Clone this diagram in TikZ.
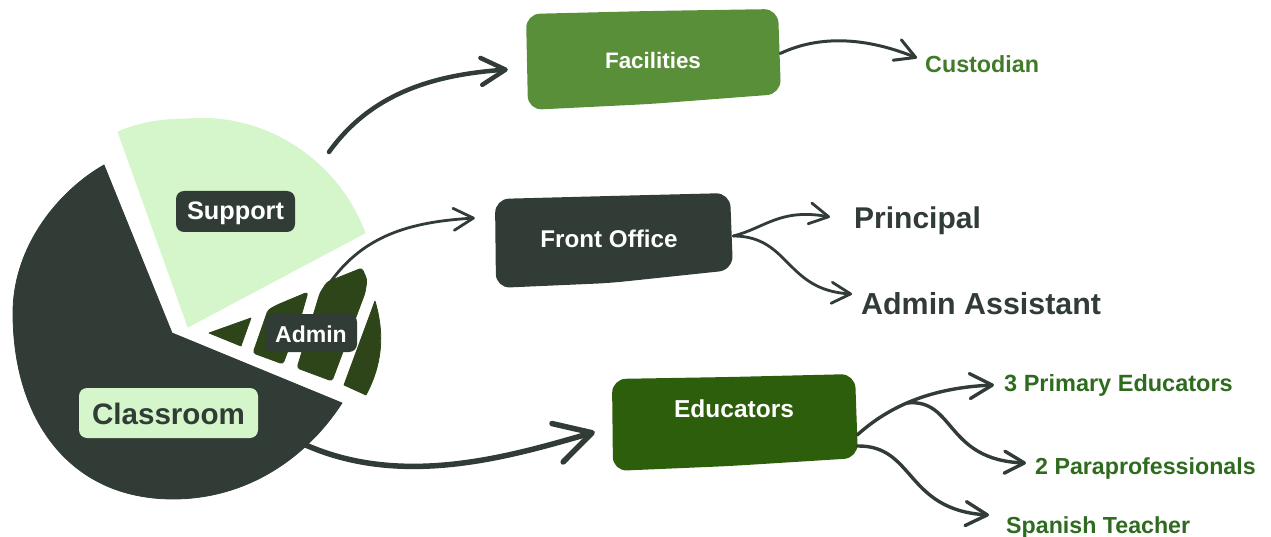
\documentclass[tikz,border=0pt]{standalone}
\usepackage{fontspec}
\setmainfont{Liberation Sans}
\usetikzlibrary{arrows.meta}
\definecolor{darkc}{HTML}{313C36}
\definecolor{lightc}{HTML}{D5F5CA}
\definecolor{facg}{HTML}{5A8F3A}
\definecolor{edug}{HTML}{2D5E0C}
\definecolor{admg}{HTML}{2D4518}
\definecolor{txtg}{HTML}{2E6B1F}
\definecolor{custg}{HTML}{437A28}
\newcommand{\fs}[1]{\fontsize{#1pt}{#1pt}\selectfont\bfseries}
\newcommand{\drop}[2]{\raisebox{-#1pt}[0pt][0pt]{#2}}
\tikzset{
  x=1pt,y=-1pt,
  tag/.style={rounded corners=8pt,inner sep=0pt,minimum width=#1},
  boxtext/.style={inner sep=0pt,text=white},
  barb/.style={draw=darkc,line cap=round,line join=round,fill=none},
  bigtip/.style={-{Straight Barb[length=#1*0.9,width=#1,round]}},
  sl/.style={fill=#1,draw=#1,line width=0.8pt,line join=round}
}
\begin{document}
\begin{tikzpicture}
\useasboundingbox (0,0) rectangle (1271,537);
% hand-drawn boxes
\fill[facg,rounded corners=14pt] (526,14) -- (650,11) -- (778,9) -- (781,94) -- (650,104) -- (528,110) -- cycle;
\fill[darkc,rounded corners=14pt] (495,199) -- (610,196) -- (730,193) -- (733,270) -- (610,283) -- (496,288) -- cycle;
\fill[edug,rounded corners=14pt] (612,379) -- (730,377) -- (855,374) -- (858,458) -- (730,466) -- (613,471) -- cycle;
% nodes
\node[boxtext,minimum width=254pt,minimum height=98pt] (fac) at (653,60.5) {\fs{22.4}Facilities};
\node[boxtext,minimum width=238pt,minimum height=92pt] (front) at (614,240) {};
\node[boxtext] (frontlabel) at (609,239) {\fs{24.2}Front Office};
\node[boxtext,minimum width=245pt,minimum height=96pt] (edu) at (734.5,423) {};
\node[boxtext] (edulabel) at (734,409) {\fs{24.5}Educators};
\node[inner sep=0pt,text=custg,anchor=west] (cust) at (925,64) {\fs{23.3}Custodian};
\node[inner sep=0pt,text=darkc,anchor=west] (princ) at (854,221) {\fs{30}Principal};
\node[inner sep=0pt,text=darkc,anchor=west] (assist) at (861,304) {\fs{30.4}Admin Assistant};
\node[inner sep=0pt,text=txtg,anchor=west] (prim) at (1004,385) {\fs{23.5}3 Primary Educators};
\node[inner sep=0pt,text=txtg,anchor=west] (para) at (1035,468) {\fs{23.2}2 Paraprofessionals};
\node[inner sep=0pt,text=txtg,anchor=west] (span) at (1006,527) {\fs{23.2}Spanish Teacher};
% connector anchors
\coordinate (supout) at (329,152);
\coordinate (admout) at (325,290);
\coordinate (claout) at (295,440);
\coordinate (fork) at (907,403);
% connectors that pass behind the pie
\draw[barb,line width=2.8pt,bigtip=22pt] (admout) .. controls (360,235) and (410,222) .. ([shift={(-20pt,22pt)}]front.west);
\draw[barb,line width=5.5pt,bigtip=40pt] (claout) .. controls (395,490) and (505,458) .. ([xshift=-17pt,yshift=-9pt]edu.west);
% pie slices
\path[sl=lightc] (188,327) -- (118,132) .. controls (140,122) and (165,119) .. (187,119) .. controls (270,112) and (340,165) .. (365,233) -- cycle;
\path[sl=darkc] (172,333) -- (104,165) .. controls (60,190) and (13,245) .. (13,313) .. controls (13,420) and (70,499) .. (173,499) .. controls (245,499) and (305,460) .. (342,403) -- cycle;
\path[sl=admg] (209,333) -- (251,318) -- (241,346) -- cycle;
\path[sl=admg,rounded corners=3pt] (253,353) -- (268,310) -- (277,305) -- (308,292) -- (302,313) -- (283,364) -- cycle;
\path[sl=admg,rounded corners=3pt] (297,368) -- (320,293) -- (327,282) -- (362,268) -- (367,280) -- (365,293) -- (332,381) -- cycle;
\path[sl=admg] (344,385) -- (375,301) .. controls (385,335) and (382,365) .. (366,395) -- cycle;
\node[tag=119pt,minimum height=41pt,fill=darkc,text=white] (support) at (235.5,211.5) {\drop{8.5}{\fs{25.3}Support}};
\node[tag=179pt,minimum height=50pt,fill=lightc,text=darkc] (classroom) at (168.5,413) {\drop{11}{\fs{29.6}Classroom}};
\node[tag=92pt,minimum height=38pt,fill=darkc,text=white] (admin) at (311,333) {\drop{9}{\fs{23}Admin}};
\draw[barb,line width=4.5pt,bigtip=27pt] (supout) .. controls (370,95) and (430,75) .. ([shift={(-18pt,-9pt)}]fac.west);
\draw[barb,line width=3pt,bigtip=22pt] ([yshift=7pt]fac.east) .. controls (815,37) and (860,35) .. ([shift={(-8pt,6pt)}]cust.west);
\draw[barb,line width=2.8pt,bigtip=21pt] ([yshift=4pt]front.east) .. controls (765,228) and (780,208) .. ([shift={(-24pt,4pt)}]princ.west);
\draw[barb,line width=2.8pt,bigtip=21pt] ([yshift=4pt]front.east) .. controls (790,236) and (785,290) .. ([shift={(-9pt,10pt)}]assist.west);
\draw[barb,line width=3.4pt,bigtip=25pt] ([yshift=-12pt]edu.east) .. controls (885,410) and (925,388) .. ([xshift=-10pt]prim.west);
\draw[barb,line width=3.4pt,bigtip=22pt] (fork) .. controls (955,398) and (945,460) .. ([xshift=-9pt,yshift=5pt]para.west);
\draw[barb,line width=3.4pt,bigtip=24pt] ([yshift=-23pt]edu.east) .. controls (915,445) and (905,510) .. ([xshift=-17pt,yshift=12pt]span.west);
\end{tikzpicture}
\end{document}
